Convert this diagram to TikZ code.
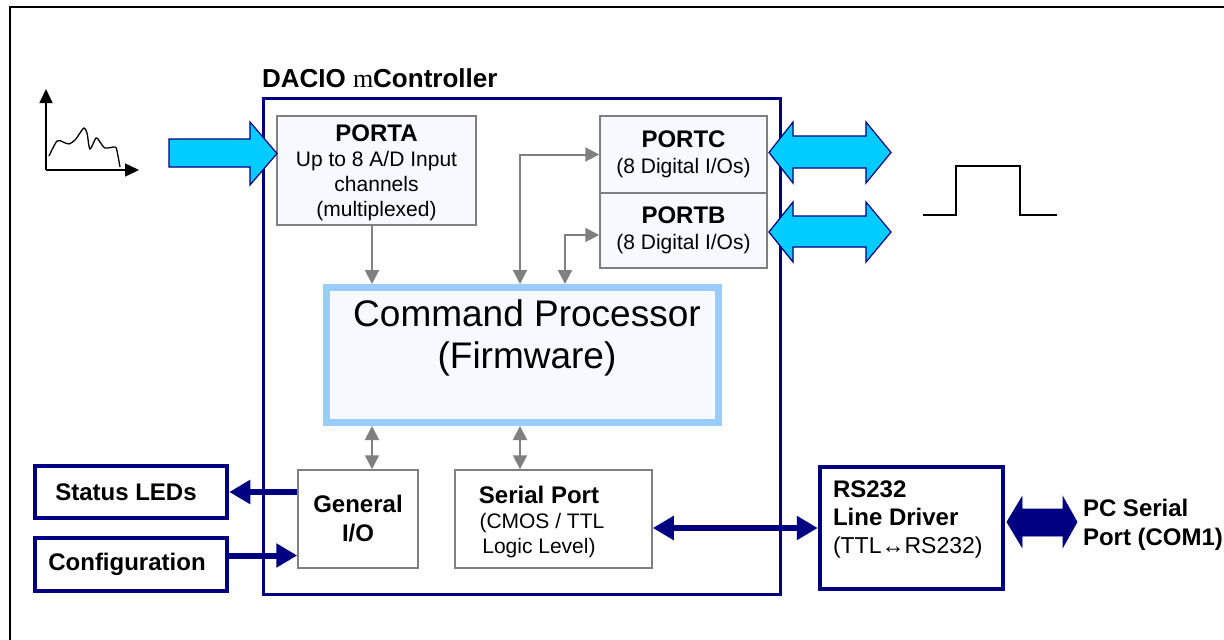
\documentclass[tikz,border=0pt]{standalone}
\usepackage{fontspec}
\setmainfont{Liberation Sans}
\newfontfamily\serifm{Liberation Serif}
\usetikzlibrary{arrows.meta,calc}
\definecolor{navyc}{HTML}{000080}
\definecolor{cyanc}{HTML}{00CCFF}
\definecolor{lblue}{HTML}{99CCFF}
\definecolor{grayc}{HTML}{808080}
\definecolor{boxfill}{HTML}{F8F8FF}
\begin{document}
\begin{tikzpicture}[x=1pt,y=-1pt,
  every node/.style={inner sep=0pt, outer sep=auto},
  graybox/.style={draw=grayc, line width=1.5pt, fill=boxfill, align=center, font=\fontsize{21}{25}\selectfont},
  whitebox/.style={draw=grayc, line width=1.5pt, fill=white, align=center},
  navybox/.style={draw=navyc, line width=4.5pt, fill=white},
  bigarrow/.style={fill=cyanc, draw=navyc, line width=1.2pt, line join=miter},
  fatarrow/.style={fill=navyc, draw=navyc, line width=0.8pt},
  grayarr/.style={draw=grayc, line width=2pt, arrows={-Triangle[length=14pt,width=14pt]}},
  graydbl/.style={draw=grayc, line width=2pt, arrows={Triangle[length=14pt,width=14pt]-Triangle[length=14pt,width=14pt]}},
  navyarr/.style={draw=navyc, line width=6pt, arrows={-Triangle[length=21pt,width=23pt]}},
  navydbl/.style={draw=navyc, line width=6pt, arrows={Triangle[length=21pt,width=23pt]-Triangle[length=21pt,width=23pt]}}
]
\useasboundingbox (0,0) rectangle (1224,640);
\fill[white] (0,0) rectangle (1224,640);
% outer frame
\draw[line width=1.5pt] (10,640) -- (10,7) -- (1224,7);

% title
\node[anchor=base west] (title) at (262,87) {\fontsize{26}{26}\selectfont\bfseries DACIO {\serifm\mdseries m}Controller};

% main container
\node[draw=navyc, line width=3pt, minimum width=517pt, minimum height=496pt] (main) at (522,346.5) {};

% ports
\node[graybox, minimum width=199pt, minimum height=109pt] (porta) at (376.5,170.5) {};
\node[align=center, font=\fontsize{21}{25}\selectfont] (portatext) at (376.5,173)
  {{\fontsize{24}{25}\selectfont\bfseries PORTA}\\Up to 8 A/D Input\\channels\\(multiplexed)};
\node[graybox, minimum width=167pt, minimum height=77pt, font=\fontsize{21}{26}\selectfont] (portc) at (683.5,154.5)
  {{\fontsize{24}{26}\selectfont\bfseries PORTC}\\(8 Digital I/Os)};
\node[graybox, minimum width=167pt, minimum height=75pt, font=\fontsize{21}{26}\selectfont] (portb) at (683.5,230.5)
  {{\fontsize{24}{26}\selectfont\bfseries PORTB}\\(8 Digital I/Os)};

% command processor
\node[draw=lblue, line width=7pt, fill=boxfill, minimum width=392pt, minimum height=135pt] (cp) at (522.5,355) {};
\node[align=center, font=\fontsize{37}{42}\selectfont] (cptext) at (527,338) {Command Processor\\(Firmware)};

% general I/O and serial port
\node[whitebox, minimum width=120pt, minimum height=98pt, font=\fontsize{24}{29}\selectfont\bfseries] (gio) at (358,519) {General\\I/O};
\node[whitebox, minimum width=197pt, minimum height=98pt] (serial) at (553.5,519) {};
\node[align=center, font=\fontsize{21}{25}\selectfont] (sertext) at (539,522)
  {{\fontsize{24}{25}\selectfont\bfseries Serial Port}\\\ (CMOS / TTL\\Logic Level)};

% external boxes
\node[navybox, minimum width=192pt, minimum height=52pt] (leds) at (131,492) {};
\node[font=\fontsize{24}{25}\selectfont\bfseries] (ledstext) at (126,492) {Status LEDs};
\node[navybox, minimum width=192pt, minimum height=53pt] (config) at (131,564.5) {};
\node[font=\fontsize{24}{25}\selectfont\bfseries] (configtext) at (127,564) {Configuration};
\node[navybox, minimum width=183pt, minimum height=122pt] (rs) at (911.5,528) {};
\node[anchor=north west, align=left, font=\fontsize{24}{28}\selectfont\bfseries] (rstext) at (833,481)
  {RS232\\Line Driver\\{\mdseries\fontsize{23}{29}\selectfont(TTL↔RS232)}};
\node[anchor=north west, align=left, font=\fontsize{24}{29}\selectfont\bfseries] (pc) at (1083,499)
  {PC Serial\\Port (COM1)};

% gray connectors
\coordinate (xa) at (372,0);
\coordinate (xb) at (520,0);
\coordinate (xc) at (565,0);
\draw[grayarr] (xa |- porta.south) -- (xa |- cp.north);
\draw[graydbl] (xb |- cp.north) |- (portc.west);
\coordinate (pbin) at ($(portb.west)+(0,4.5)$);
\draw[graydbl] (xc |- cp.north) |- (pbin);
\draw[graydbl] (xa |- cp.south) -- (xa |- gio.north);
\draw[graydbl] (xb |- cp.south) -- (xb |- serial.north);

% navy connectors
\draw[navyarr] (gio.west |- leds.east) -- (leds.east);
\coordinate (cfgout) at ($(config.east)+(0,-9)$);
\draw[navyarr] (cfgout) -- (gio.west |- cfgout);
\draw[navydbl] (serial.east |- rs.west) -- (rs.west);

% big cyan arrows
\draw[bigarrow] (169,139) -- (250,139) -- (250,122) -- (277,153.5) -- (250,185) -- (250,167) -- (169,167) -- cycle;
\draw[bigarrow] (769,152.5) -- (793,122) -- (793,136) -- (866,136) -- (866,122) -- (891,152.5) -- (866,183) -- (866,168) -- (793,168) -- (793,183) -- cycle;
\draw[bigarrow] (769,232) -- (793,202) -- (793,216) -- (866,216) -- (866,202) -- (891,232) -- (866,262) -- (866,247) -- (793,247) -- (793,262) -- cycle;
% PC fat arrow
\draw[fatarrow] (1007,522) -- (1022,497) -- (1022,509) -- (1063,509) -- (1063,497) -- (1077,522) -- (1063,547) -- (1063,536) -- (1022,536) -- (1022,547) -- cycle;

% analog signal icon
\draw[line width=1.5pt, arrows={-Triangle[length=14pt,width=13pt]}] (46,170) -- (46,89);
\draw[line width=1.5pt, arrows={-Triangle[length=14pt,width=13pt]}] (46,170) -- (139,170);
\draw[line width=1.3pt] plot[smooth, tension=0.5] coordinates {(49,156) (57,141) (63,142) (69,144) (75,140) (80,133) (84,128) (87,133) (90,149) (96,138) (100,142) (105,148) (115,147) (117,151) (120,167)};

% digital pulse icon
\draw[line width=2pt] (923,215) -- (956,215) -- (956,166) -- (1020,166) -- (1020,215) -- (1057,215);
\end{tikzpicture}
\end{document}
